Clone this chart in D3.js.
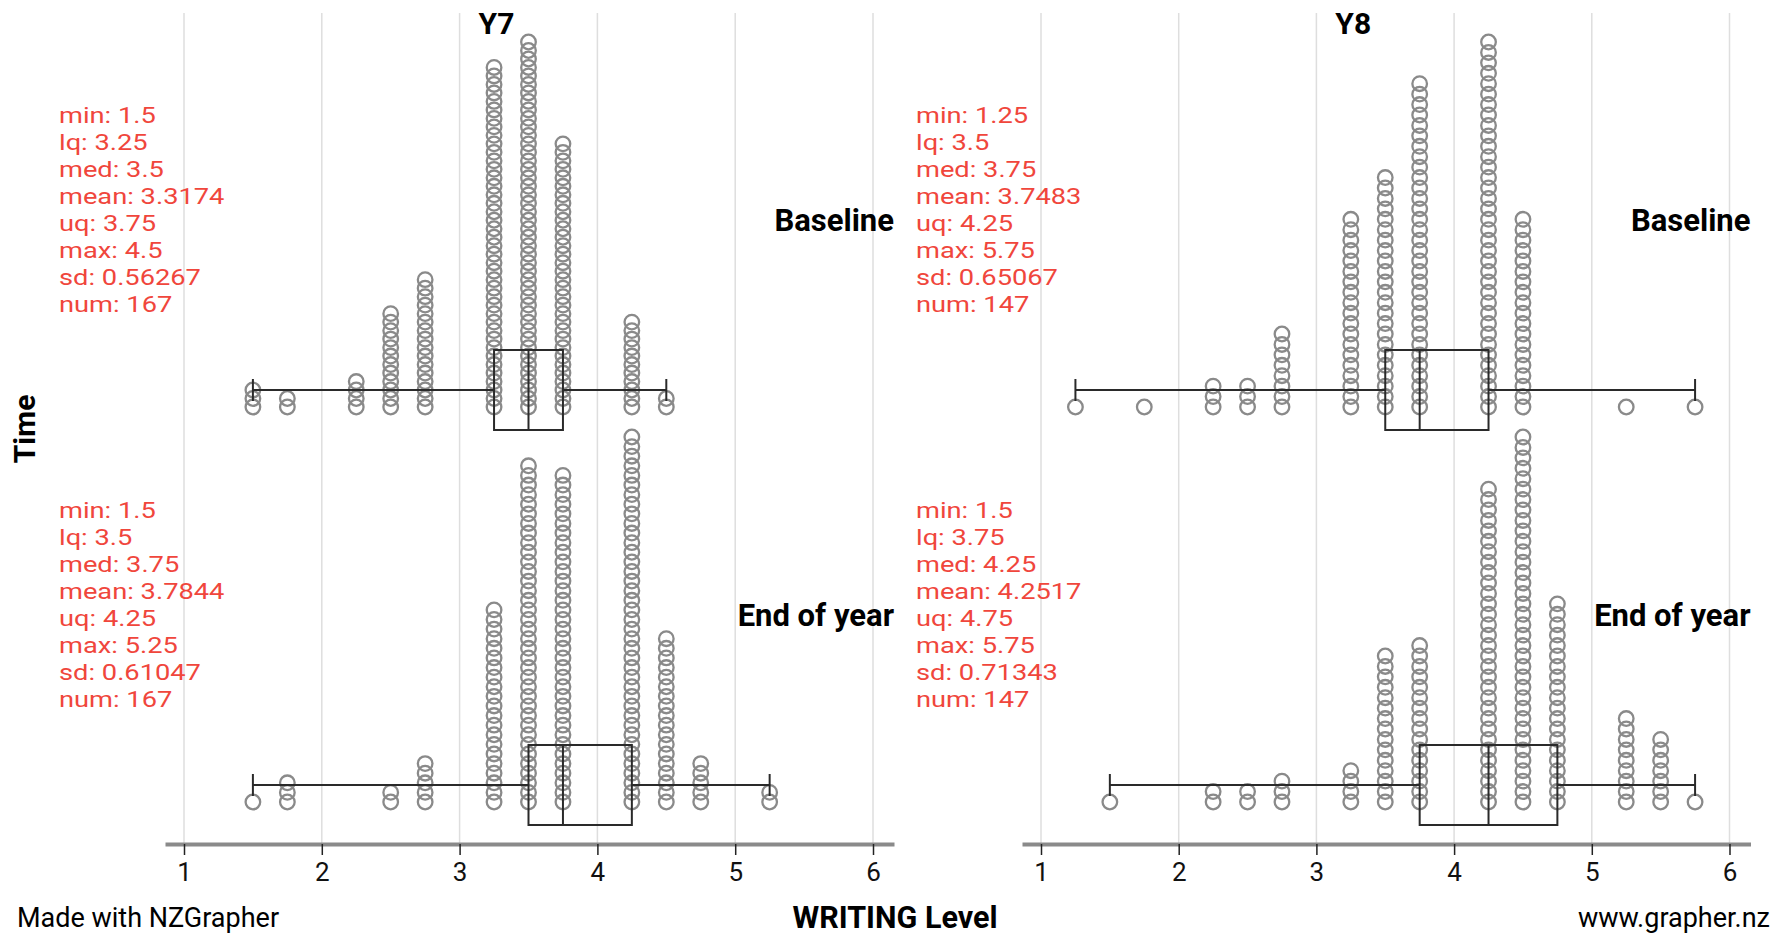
<!DOCTYPE html>
<html>
<head>
<meta charset="utf-8">
<script src="https://cdn.jsdelivr.net/npm/d3@7"></script>
<style>
html,body{margin:0;padding:0;background:#fff;}
svg{display:block;font-family:Roboto,"Noto Sans",sans-serif;}
</style>
</head>
<body>
<svg id="chart" width="1782" height="938"></svg>
<script>
// ---------- data ----------
const groups = ["Y7", "Y8"];
const times = ["Baseline", "End of year"];
const tickValues = [1, 2, 3, 4, 5, 6];

const y7BaselineLevels = [1.5, 1.75, 2.25, 2.5, 2.75, 3.25, 3.5, 3.75, 4.25, 4.5];
const y7BaselineCounts = [3, 2, 4, 12, 16, 41, 44, 32, 11, 2];
const y7EndLevels = [1.5, 1.75, 2.5, 2.75, 3.25, 3.5, 3.75, 4.25, 4.5, 4.75, 5.25];
const y7EndCounts = [1, 3, 2, 5, 21, 36, 35, 39, 18, 5, 2];
const y8BaselineLevels = [1.25, 1.75, 2.25, 2.5, 2.75, 3.25, 3.5, 3.75, 4.25, 4.5, 5.25, 5.75];
const y8BaselineCounts = [1, 1, 3, 3, 8, 19, 23, 32, 36, 19, 1, 1];
const y8EndLevels = [1.5, 2.25, 2.5, 2.75, 3.25, 3.5, 3.75, 4.25, 4.5, 4.75, 5.25, 5.5, 5.75];
const y8EndCounts = [1, 2, 2, 3, 4, 15, 16, 31, 36, 20, 9, 7, 1];

// summary statistics shown on the chart: min, lq, med, mean, uq, max, sd, num
const statNames = ["min", "lq", "med", "mean", "uq", "max", "sd", "num"];
const y7BaselineStats = ["1.5", "3.25", "3.5", "3.3174", "3.75", "4.5", "0.56267", "167"];
const y7EndStats = ["1.5", "3.5", "3.75", "3.7844", "4.25", "5.25", "0.61047", "167"];
const y8BaselineStats = ["1.25", "3.5", "3.75", "3.7483", "4.25", "5.75", "0.65067", "147"];
const y8EndStats = ["1.5", "3.75", "4.25", "4.2517", "4.75", "5.75", "0.71343", "147"];

const xTitle = "WRITING Level";
const yTitle = "Time";
const footLeft = "Made with NZGrapher";
const footRight = "www.grapher.nz";

// ---------- assemble ----------
const panels = [
  {group: "Y7", time: "Baseline", levels: y7BaselineLevels, counts: y7BaselineCounts, stats: y7BaselineStats},
  {group: "Y7", time: "End of year", levels: y7EndLevels, counts: y7EndCounts, stats: y7EndStats},
  {group: "Y8", time: "Baseline", levels: y8BaselineLevels, counts: y8BaselineCounts, stats: y8BaselineStats},
  {group: "Y8", time: "End of year", levels: y8EndLevels, counts: y8EndCounts, stats: y8EndStats}
];

const svg = d3.select("#chart");
const RED = "#f0463c";

const colX = {
  Y7: d3.scaleLinear().domain([1, 6]).range([184, 873]),
  Y8: d3.scaleLinear().domain([1, 6]).range([1041, 1729.5])
};
const rowY = d3.scaleBand().domain(times).range([12, 802]).paddingInner(0).paddingOuter(0);
const axisY = 844;

groups.forEach(g => {
  const x = colX[g];
  const left = x(1) - 19, right = x(6) + 21;
  const gg = svg.append("g");

  gg.selectAll("line.grid").data(tickValues).join("line")
    .attr("x1", d => x(d)).attr("x2", d => x(d))
    .attr("y1", 13).attr("y2", axisY)
    .attr("stroke", "#dedede").attr("stroke-width", 1.5);

  gg.append("text").attr("x", x(3.5) - 32).attr("y", 34)
    .attr("text-anchor", "middle").attr("font-weight", "bold").attr("font-size", 30)
    .attr("fill", "#000").text(g);

  const axis = d3.axisBottom(d3.scaleLinear().domain([x.invert(left), x.invert(right)]).range([left, right]))
    .tickValues(tickValues).tickFormat(d3.format("d")).tickSizeInner(11).tickSizeOuter(0).tickPadding(8);
  const ax = gg.append("g").attr("transform", `translate(0,${axisY})`).call(axis);
  ax.select(".domain").attr("stroke", "#8a8a8a").attr("stroke-width", 4);
  ax.selectAll(".tick line").attr("stroke", "#222").attr("stroke-width", 1.5);
  ax.selectAll(".tick text").attr("font-size", 26).attr("fill", "#111")
    .attr("font-family", "Roboto, sans-serif");
});

panels.forEach(p => {
  const x = colX[p.group];
  const top = rowY(p.time);
  const bottom = top + rowY.bandwidth();
  const maxCount = d3.max(p.counts);
  const spacing = (rowY.bandwidth() - 30) / (maxCount - 1);
  const g = svg.append("g");

  const dots = [];
  p.levels.forEach((lv, i) => {
    for (let k = 0; k < p.counts[i]; k++) dots.push({v: lv, k: k});
  });
  g.selectAll("circle").data(dots).join("circle")
    .attr("cx", d => x(d.v))
    .attr("cy", d => bottom - d.k * spacing)
    .attr("r", 7.3)
    .attr("fill", "none")
    .attr("stroke", "#8a8a8a")
    .attr("stroke-width", 2.3);

  const s = p.stats.map(Number);
  const [mn, lq, med, , uq, mx] = s;
  const wy = bottom - 17;
  const bh = 40;
  const stroke = "#2a2a2a";
  g.append("line").attr("x1", x(mn)).attr("x2", x(lq)).attr("y1", wy).attr("y2", wy)
    .attr("stroke", stroke).attr("stroke-width", 2);
  g.append("line").attr("x1", x(uq)).attr("x2", x(mx)).attr("y1", wy).attr("y2", wy)
    .attr("stroke", stroke).attr("stroke-width", 2);
  [mn, mx].forEach(v => g.append("line").attr("x1", x(v)).attr("x2", x(v))
    .attr("y1", wy - 11).attr("y2", wy + 11).attr("stroke", stroke).attr("stroke-width", 2));
  g.append("rect").attr("x", x(lq)).attr("y", wy - bh).attr("width", x(uq) - x(lq)).attr("height", 2 * bh)
    .attr("fill", "none").attr("stroke", stroke).attr("stroke-width", 2);
  g.append("line").attr("x1", x(med)).attr("x2", x(med)).attr("y1", wy - bh).attr("y2", wy + bh)
    .attr("stroke", stroke).attr("stroke-width", 2);

  // stats text: slightly widened glyphs, as in the reference
  const sg = g.append("g").attr("transform", `translate(${x(1) - 125},0) scale(1.24,1)`);
  statNames.forEach((n, i) => {
    sg.append("text").attr("x", 0).attr("y", top + 110.7 + i * 27)
      .attr("font-size", 22).attr("fill", RED)
      .text(`${n}: ${p.stats[i]}`);
  });

  g.append("text").attr("x", x(6) + 21).attr("y", top + 219)
    .attr("text-anchor", "end").attr("font-weight", "bold").attr("font-size", 31)
    .attr("fill", "#000").text(p.time);
});

svg.append("text").attr("transform", "translate(35,429) rotate(-90)")
  .attr("text-anchor", "middle").attr("font-weight", "bold").attr("font-size", 30).text(yTitle);
svg.append("text").attr("x", 895).attr("y", 928).attr("text-anchor", "middle")
  .attr("font-weight", "bold").attr("font-size", 30.5).text(xTitle);
svg.append("text").attr("x", 17).attr("y", 927).attr("font-size", 27).text(footLeft);
svg.append("text").attr("x", 1770).attr("y", 927).attr("text-anchor", "end").attr("font-size", 27).text(footRight);
</script>
</body>
</html>
